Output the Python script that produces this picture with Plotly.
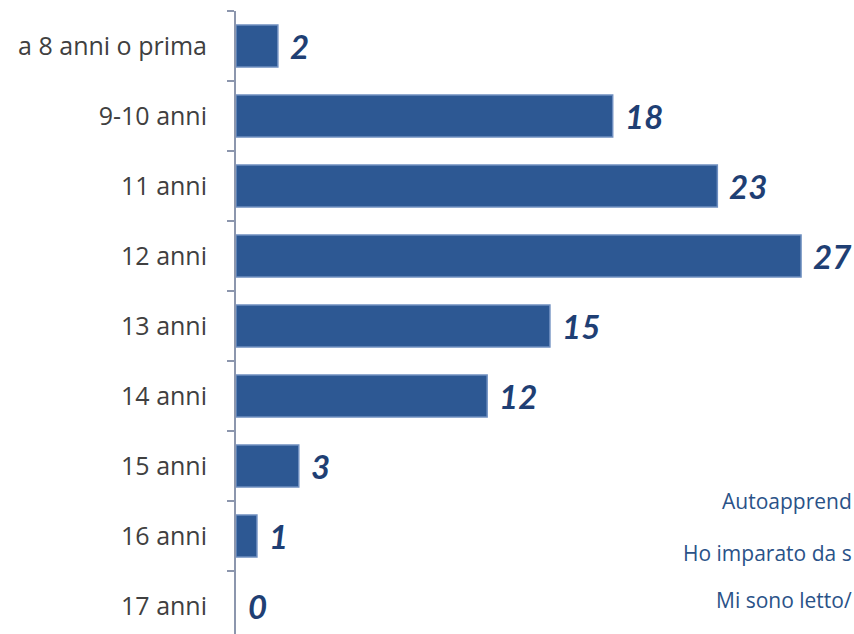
import plotly.graph_objects as go

categories = ['a 8 anni o prima', '9-10 anni', '11 anni', '12 anni', '13 anni',
              '14 anni', '15 anni', '16 anni', '17 anni']
values = [2, 18, 23, 27, 15, 12, 3, 1, 0]
# text of a neighbouring legend, cut by the picture's right edge
side_labels = ['Autoapprend', 'Ho imparato da s', 'Mi sono letto/']

BAR_COL = '#2d5893'
EDGE_COL = '#6f8fc0'
LABEL_COL = '#1f3f74'
AXIS_COL = '#8c96ad'
FONT = 'Open Sans, sans-serif'

fig = go.Figure(go.Bar(
    x=values, y=categories, orientation='h',
    marker=dict(color=BAR_COL,
                line=dict(color=EDGE_COL, width=[1.5 if v > 0 else 0 for v in values])),
    width=0.6,
    hoverinfo='x+y',
))

for c, v in zip(categories, values):
    fig.add_annotation(
        x=v, y=c, text=f'<b><i>{v}</i></b>', showarrow=False,
        xanchor='left', xshift=10,
        font=dict(family='Lato, sans-serif', size=33, color=LABEL_COL),
    )

for lbl, yp in zip(side_labels, [0.2135, 0.130, 0.0546]):
    fig.add_annotation(
        xref='paper', yref='paper', x=1, y=yp, text=lbl, showarrow=False,
        xanchor='right', yanchor='middle',
        font=dict(family=FONT, size=21, color='#2a5288'),
    )

fig.update_layout(
    width=854, height=634,
    paper_bgcolor='white', plot_bgcolor='white',
    margin=dict(l=236, r=0, t=11, b=0, autoexpand=False),
    showlegend=False,
    xaxis=dict(range=[0, 29.53], visible=False, fixedrange=True, automargin=False),
    yaxis=dict(
        type='category', range=[8.4, -0.5], automargin=False,
        showline=True, linecolor=AXIS_COL, linewidth=2,
        ticks='outside', tickson='boundaries', ticklen=7, tickcolor=AXIS_COL, tickwidth=2,
        tickfont=dict(family=FONT, size=25, color='#404040'),
        ticklabelstandoff=22,
        showgrid=False,
    ),
)

# page body has a default 8px margin; drop it so the figure fills the window
fig.write_html('out.html', config={'displayModeBar': False},
               post_script="document.body.style.margin='0';document.body.style.overflow='hidden';")
